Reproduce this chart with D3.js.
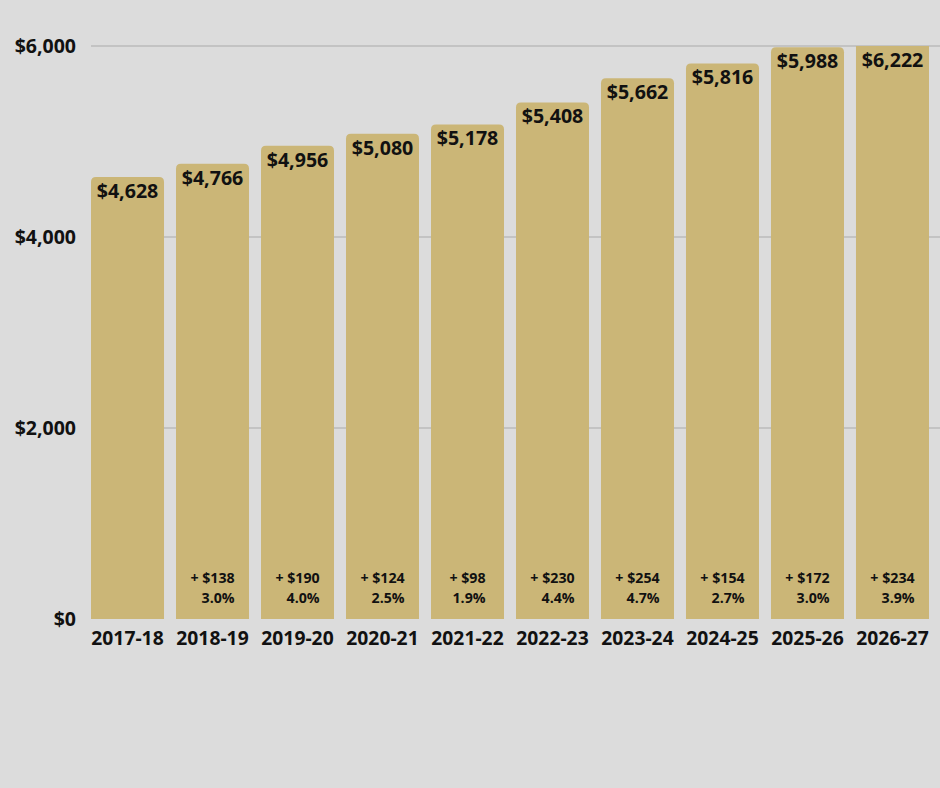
<!DOCTYPE html>
<html lang="en">
<head>
    <meta charset="utf-8">
    <script src="https://cdn.jsdelivr.net/npm/d3@7"></script>
    <style>
        body { margin: 0; background: #dcdcdc; }
        text { font-family: "Open Sans", sans-serif; font-weight: 700; fill: #111; }
    </style>
</head>

<body>
<div id="svg"></div>

<script>
    var years = ["2017-18", "2018-19", "2019-20", "2020-21", "2021-22",
                 "2022-23", "2023-24", "2024-25", "2025-26", "2026-27"];
    var costs = [4628, 4766, 4956, 5080, 5178, 5408, 5662, 5816, 5988, 6222];
    var increases = [null, 138, 190, 124, 98, 230, 254, 154, 172, 234];
    var pcts = [null, "3.0%", "4.0%", "2.5%", "1.9%", "4.4%", "4.7%", "2.7%", "3.0%", "3.9%"];
    var yTicks = [0, 2000, 4000, 6000];

    var margin = {top: 46, right: 0, bottom: 169, left: 91},
        width = 940 - margin.left - margin.right,
        height = 788 - margin.top - margin.bottom;

    var svg = d3.select("#svg").append("svg")
        .attr("width", width + margin.left + margin.right)
        .attr("height", height + margin.top + margin.bottom);

    var g = svg.append("g")
        .attr("transform", "translate(" + margin.left + "," + margin.top + ")");

    var x = d3.scaleBand()
        .domain(years)
        .range([0, 838])
        .paddingInner(0.141)
        .paddingOuter(0);

    var y = d3.scaleLinear()
        .domain([0, 6000])
        .range([height, 0]);

    // gridlines
    g.selectAll("line.grid")
        .data(yTicks.filter(function(d){ return d > 0; }))
    .enter().append("line")
        .attr("class", "grid")
        .attr("x1", 0)
        .attr("x2", width)
        .attr("y1", function(d){ return y(d); })
        .attr("y2", function(d){ return y(d); })
        .style("stroke", "#a9a9a9")
        .style("stroke-width", 1.2);

    // y axis labels
    g.selectAll("text.ylab")
        .data(yTicks)
    .enter().append("text")
        .attr("class", "ylab")
        .attr("x", -15)
        .attr("y", function(d){ return y(d); })
        .attr("dy", "0.35em")
        .attr("text-anchor", "end")
        .style("font-size", "19.5px")
        .text(function(d){ return "$" + d3.format(",")(d); });

    // bars clipped at the top of the plot
    svg.append("defs").append("clipPath")
        .attr("id", "plot")
    .append("rect")
        .attr("x", 0).attr("y", 0)
        .attr("width", width).attr("height", height);

    var r = 5;
    g.append("g")
        .attr("clip-path", "url(#plot)")
        .selectAll("path")
        .data(costs)
    .enter().append("path")
        .attr("d", function(d, i){
            var x0 = x(years[i]), w = x.bandwidth(), y0 = y(d), b = y(0);
            return "M" + x0 + "," + b +
                "V" + (y0 + r) +
                "Q" + x0 + "," + y0 + " " + (x0 + r) + "," + y0 +
                "H" + (x0 + w - r) +
                "Q" + (x0 + w) + "," + y0 + " " + (x0 + w) + "," + (y0 + r) +
                "V" + b + "Z";
        })
        .style("fill", "#cbb677");

    // value labels
    g.selectAll("text.val")
        .data(costs)
    .enter().append("text")
        .attr("class", "val")
        .attr("x", function(d, i){ return x(years[i]) + x.bandwidth() / 2; })
        .attr("y", function(d){ return Math.max(y(d), 0) + 14; })
        .attr("dy", "0.35em")
        .attr("text-anchor", "middle")
        .style("font-size", "19.6px")
        .text(function(d){ return "$" + d3.format(",")(d); });

    // category labels
    g.selectAll("text.cat")
        .data(years)
    .enter().append("text")
        .attr("class", "cat")
        .attr("x", function(d){ return x(d) + x.bandwidth() / 2; })
        .attr("y", height + 19)
        .attr("dy", "0.35em")
        .attr("text-anchor", "middle")
        .style("font-size", "19.3px")
        .text(function(d){ return d; });

    // increase annotations: block centred in bar, lines right-aligned
    years.forEach(function(yr, i){
        if (increases[i] == null) return;
        var cx = x(yr) + x.bandwidth() / 2;
        var t1 = g.append("text")
            .attr("y", y(0) - 41)
            .attr("dy", "0.35em")
            .attr("text-anchor", "end")
            .style("font-size", "14.2px")
            .text("+ $" + increases[i]);
        var w = t1.node().getComputedTextLength();
        t1.attr("x", cx + w / 2);
        g.append("text")
            .attr("x", cx + w / 2)
            .attr("y", y(0) - 21)
            .attr("dy", "0.35em")
            .attr("text-anchor", "end")
            .style("font-size", "14.2px")
            .text(pcts[i]);
    });
</script>
</body>
</html>
